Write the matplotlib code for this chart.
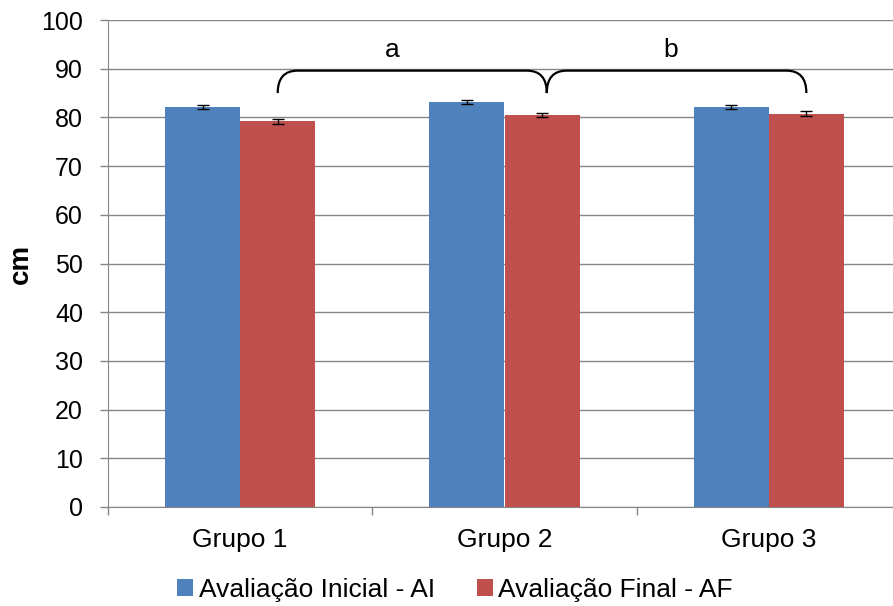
import numpy as np
import matplotlib
matplotlib.use('Agg')
import matplotlib.pyplot as plt
from matplotlib.path import Path
from matplotlib.patches import PathPatch

groups = ['Grupo 1', 'Grupo 2', 'Grupo 3']
ai_vals = [82.1, 83.1, 82.1]
af_vals = [79.2, 80.5, 80.8]
ai_err = [0.45, 0.45, 0.45]
af_err = [0.5, 0.45, 0.55]
series_names = ['Avaliação Inicial - AI', 'Avaliação Final - AF']
brace_labels = ['a', 'b']

plt.rcParams['font.family'] = ['Liberation Sans', 'DejaVu Sans']
plt.rcParams['font.size'] = 19

blue = '#4F81BD'
red = '#C0504D'
grid_c = '#868686'

fig = plt.figure(figsize=(8.93, 6.06), dpi=100)
ax = fig.add_axes([108 / 893, 99 / 606, (901 - 108) / 893, (507 - 20) / 606])

x = np.arange(len(groups))
w = 0.284
ax.bar(x - w / 2, ai_vals, w, color=blue, linewidth=0, label=series_names[0], zorder=3)
ax.bar(x + w / 2, af_vals, w, color=red, linewidth=0, label=series_names[1], zorder=3)
ax.errorbar(x - w / 2, ai_vals, yerr=ai_err, fmt='none', ecolor='black',
            elinewidth=1, capsize=4.5, capthick=1, zorder=4)
ax.errorbar(x + w / 2, af_vals, yerr=af_err, fmt='none', ecolor='black',
            elinewidth=1, capsize=4.5, capthick=1, zorder=4)

ax.set_xlim(-0.5, 2.5)
ax.set_ylim(0, 100)
ax.set_yticks(np.arange(0, 101, 10))
ax.yaxis.grid(True, color=grid_c, linewidth=1)
ax.set_axisbelow(True)

ax.set_xticks(x)
ax.set_xticklabels(groups, fontsize=19)
ax.set_xticks([-0.5, 0.5, 1.5, 2.5], minor=True)
ax.tick_params(axis='x', which='major', length=0, pad=15)
ax.tick_params(axis='x', which='minor', length=6, color=grid_c, width=1)
ax.tick_params(axis='y', length=6, color=grid_c, width=1, pad=12, labelsize=18)
ax.tick_params(axis='y', which='minor', length=0)

for s in ['top', 'right']:
    ax.spines[s].set_visible(False)
ax.spines['left'].set_color(grid_c)
ax.spines['bottom'].set_color(grid_c)

fig.text(21 / 893, 1 - 264 / 606, 'cm', rotation=90, ha='center', va='center',
         fontweight='bold', fontsize=20)

# brace over the red bars
x0, xm, x1 = x[0] + w / 2, 1.16, x[2] + w / 2
yb, yt = 85.0, 89.6
r = 0.075
verts = [(x0, yb), (x0, yt), (x0 + r, yt),
         (xm - r, yt), (xm, yt), (xm, yb),
         (xm, yt), (xm + r, yt),
         (x1 - r, yt), (x1, yt), (x1, yb)]
codes = [Path.MOVETO, Path.CURVE3, Path.CURVE3,
         Path.LINETO, Path.CURVE3, Path.CURVE3,
         Path.CURVE3, Path.CURVE3,
         Path.LINETO, Path.CURVE3, Path.CURVE3]
ax.add_patch(PathPatch(Path(verts, codes), facecolor='none', edgecolor='black',
                       linewidth=1.6, zorder=5))
ax.text(0.575, 93.8, brace_labels[0], ha='center', va='center')
ax.text(1.63, 93.8, brace_labels[1], ha='center', va='center')

fig.legend(loc='center', bbox_to_anchor=(455 / 893, 16 / 606), ncol=2,
           frameon=False, handlelength=0.6, handleheight=0.6,
           handletextpad=0.2, columnspacing=1.6)

fig.savefig('out.png', dpi=100)
